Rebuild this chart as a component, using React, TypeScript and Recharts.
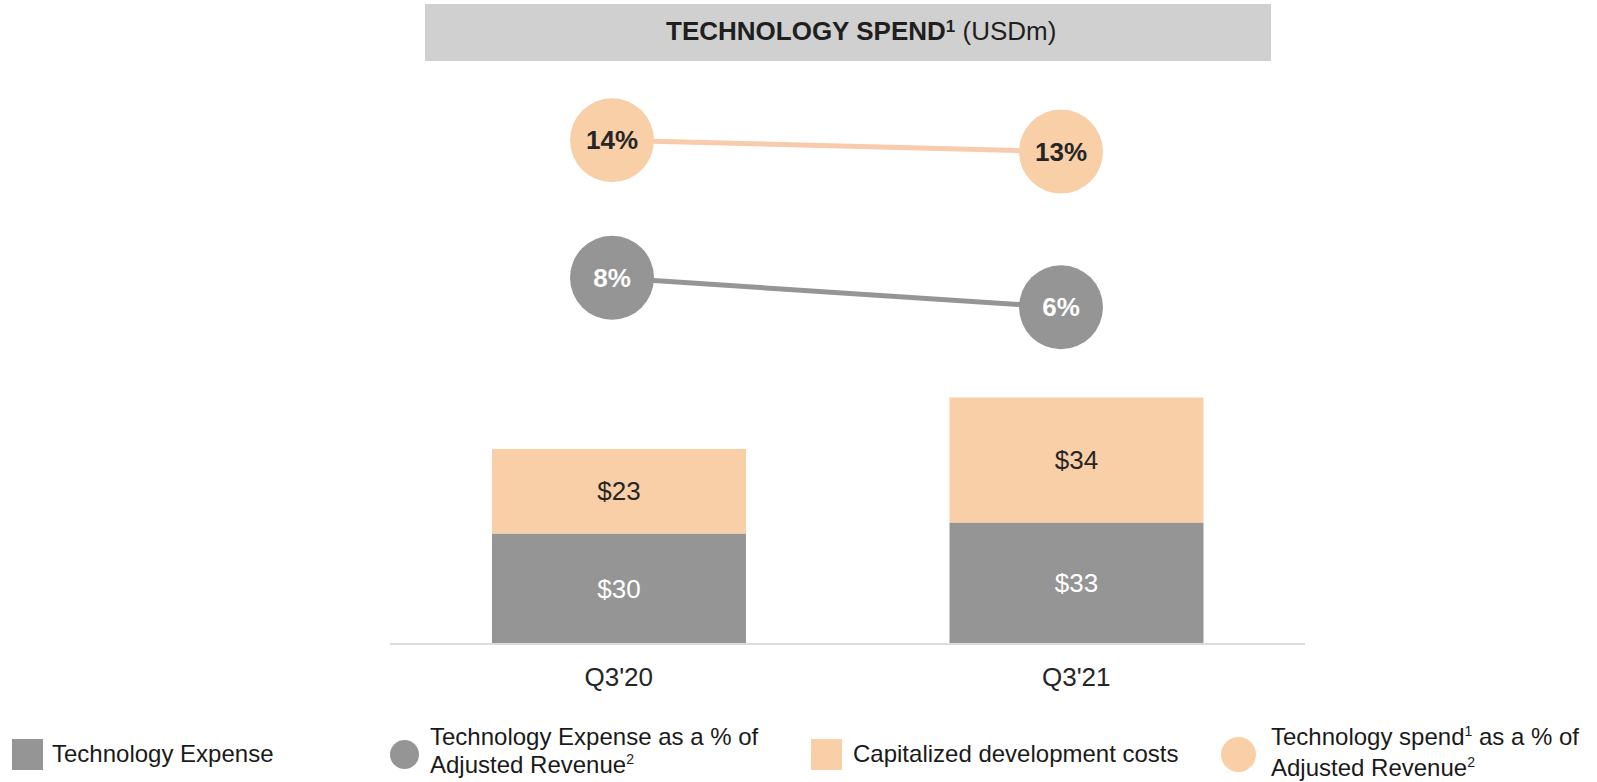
import {
  Bar,
  ComposedChart,
  LabelList,
  Line,
  XAxis,
  YAxis,
} from 'recharts';

// Technology spend, Q3'20 vs Q3'21 (USDm). Stacked bars for the $ amounts,
// two floating lines with big circles for the % of adjusted revenue.

const quarters = ["Q3'20", "Q3'21"];
const techExpense = [30, 33];
const capDevCosts = [23, 34];
const techExpensePct = [8, 6];
const techSpendPct = [14, 13];

const GRAY = '#959595';
const PEACH = '#F9CFA8';
const PEACH_LINE = '#F7CBAB';
const INK = '#262626';
const FONT = "'Liberation Sans', Arial, Helvetica, sans-serif";

const data = quarters.map((q, i) => ({
  quarter: q,
  expense: techExpense[i],
  capDev: capDevCosts[i],
  expensePct: techExpensePct[i],
  spendPct: techSpendPct[i],
}));

const legendItems: { shape: 'square' | 'circle'; color: string; lines: string[]; sup?: (string | null)[] }[] = [
  { shape: 'square', color: GRAY, lines: ['Technology Expense'] },
  { shape: 'circle', color: GRAY, lines: ['Technology Expense as a % of', 'Adjusted Revenue'], sup: [null, '2'] },
  { shape: 'square', color: PEACH, lines: ['Capitalized development costs'] },
  { shape: 'circle', color: PEACH, lines: ['Technology spend', 'Adjusted Revenue'], sup: ['1', '2'] },
];

const dollarLabel = (color: string) => (p: any) => {
  const x = p.x + p.width / 2;
  const y = p.y + p.height / 2;
  return (
    <text x={x} y={y} dy={9} textAnchor="middle" fontSize={26} fill={color} fontFamily={FONT}>
      ${p.value}
    </text>
  );
};

const pctLabel = (color: string) => (p: any) => {
  const x = p.x ?? p.viewBox?.x;
  const y = p.y ?? p.viewBox?.y;
  return (
    <text x={x} y={y} dy={9} textAnchor="middle" fontSize={26} fontWeight={700} fill={color} fontFamily={FONT}>
      {p.value}%
    </text>
  );
};

export default function App() {
  return (
    <div style={{ position: 'absolute', left: 0, top: 0, width: 1597, height: 782, background: '#fff', fontFamily: FONT, color: '#1a1a1a' }}>
      <div style={{ position: 'absolute', left: 425, top: 4, width: 846, height: 57, background: '#D0D0D0' }} />
      <div style={{ position: 'absolute', left: 666, top: 16, fontSize: 26, lineHeight: '30px', color: '#1f1f1f', whiteSpace: 'nowrap' }}>
        <b>TECHNOLOGY SPEND</b>
        <b style={{ fontSize: 17, position: 'relative', top: -8 }}>1</b> (USDm)
      </div>

      <div style={{ position: 'absolute', left: 0, top: 0 }}>
        <ComposedChart width={1597} height={782} data={data} margin={{ top: 70, right: 292, bottom: 108, left: 390 }}>
          <XAxis
            dataKey="quarter"
            axisLine={{ stroke: '#DCDCDC', strokeWidth: 2 }}
            tickLine={false}
            tickMargin={18}
            tick={{ fontSize: 26, fill: INK, fontFamily: FONT }}
          />
          <XAxis dataKey="quarter" xAxisId="pts" scale="point" padding={{ left: 222, right: 244 }} hide />
          <YAxis yAxisId="bars" domain={[0, 156]} hide />
          <YAxis yAxisId="spend" domain={[-30.58, 20.22]} hide />
          <YAxis yAxisId="exp" domain={[-16.83, 22.09]} hide />

          <Bar dataKey="expense" stackId="a" yAxisId="bars" fill={GRAY} barSize={254} isAnimationActive={false}>
            <LabelList dataKey="expense" content={dollarLabel('#FFFFFF')} />
          </Bar>
          <Bar dataKey="capDev" stackId="a" yAxisId="bars" fill={PEACH} barSize={254} isAnimationActive={false}>
            <LabelList dataKey="capDev" content={dollarLabel(INK)} />
          </Bar>

          <Line
            dataKey="spendPct"
            xAxisId="pts"
            yAxisId="spend"
            stroke={PEACH_LINE}
            strokeWidth={5}
            dot={{ r: 42, fill: PEACH, stroke: 'none', strokeWidth: 0 }}
            activeDot={false}
            isAnimationActive={false}
          >
            <LabelList dataKey="spendPct" content={pctLabel(INK)} />
          </Line>
          <Line
            dataKey="expensePct"
            xAxisId="pts"
            yAxisId="exp"
            stroke={GRAY}
            strokeWidth={5}
            dot={{ r: 42, fill: GRAY, stroke: 'none', strokeWidth: 0 }}
            activeDot={false}
            isAnimationActive={false}
          >
            <LabelList dataKey="expensePct" content={pctLabel('#FFFFFF')} />
          </Line>
        </ComposedChart>
      </div>

      {/* legend */}
      <Legend />
    </div>
  );
}

function Legend() {
  const slots = [
    { markX: 12, markSize: 31, textX: 52 },
    { markX: 390, markSize: 29, textX: 430 },
    { markX: 811, markSize: 31, textX: 853 },
    { markX: 1221, markSize: 35, textX: 1271 },
  ];
  return (
    <>
      {legendItems.map((it, i) => {
        const s = slots[i];
        const two = it.lines.length > 1;
        return (
          <div key={i}>
            <div
              style={{
                position: 'absolute',
                left: s.markX,
                top: 754 - s.markSize / 2,
                width: s.markSize,
                height: s.markSize,
                background: it.color,
                borderRadius: it.shape === 'circle' ? '50%' : 0,
              }}
            />
            <div
              style={{
                position: 'absolute',
                left: s.textX,
                top: two ? 723 : 740,
                fontSize: 24,
                lineHeight: '28px',
                whiteSpace: 'nowrap',
                color: '#1a1a1a',
              }}
            >
              {it.lines.map((l, j) => (
                <div key={j}>
                  {l}
                  {it.sup && it.sup[j] ? (
                    <span style={{ fontSize: 14, position: 'relative', top: -9 }}>{it.sup[j]}</span>
                  ) : null}
                  {i === 3 && j === 0 ? ' as a % of' : null}
                </div>
              ))}
            </div>
          </div>
        );
      })}
    </>
  );
}
